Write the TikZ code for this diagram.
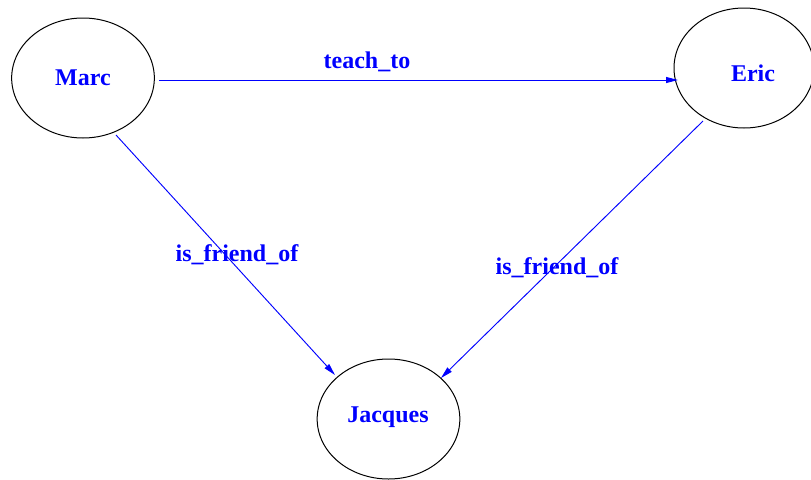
\documentclass[tikz,border=0pt]{standalone}
\usepackage{fontspec}
\setmainfont{Liberation Serif}
\usetikzlibrary{arrows.meta,shapes.geometric}
\begin{document}
\begin{tikzpicture}[x=0.75pt,y=-0.75pt,
  person/.style={draw=black,line width=0.75pt,ellipse,minimum width=107pt,minimum height=90pt,inner sep=0pt},
  txt/.style={text=blue,font=\fontsize{18}{20}\selectfont\bfseries,inner sep=0pt},
  edge/.style={draw=blue,line width=0.7pt,-{Triangle[length=9pt,width=4.5pt]}}]
\useasboundingbox (0,0) rectangle (811,479);
\node[person] (Marc) at (83,78) {};
\node[person,minimum width=105pt] (Eric) at (744,68) {};
\node[person] (Jacques) at (388.5,419) {};
\node[txt] (tMarc) at (83,78) {Marc};
\node[txt] (tEric) at (753,73) {Eric};
\node[txt] (tJacques) at (388,417) {Jacques};
\draw[edge] ([shift={(76,2)}]Marc.center) -- ([shift={(-66,12)}]Eric.center);
\draw[edge] ([shift={(33,57)}]Marc.center) -- ([shift={(-53.5,-44)}]Jacques.center);
\draw[edge] ([shift={(-41,53)}]Eric.center) -- ([shift={(52.5,-41)}]Jacques.center);
\node[txt] (l1) at (367,62) {teach\_to};
\node[txt] (l2) at (237,255) {is\_friend\_of};
\node[txt] (l3) at (557,268) {is\_friend\_of};
\end{tikzpicture}
\end{document}
